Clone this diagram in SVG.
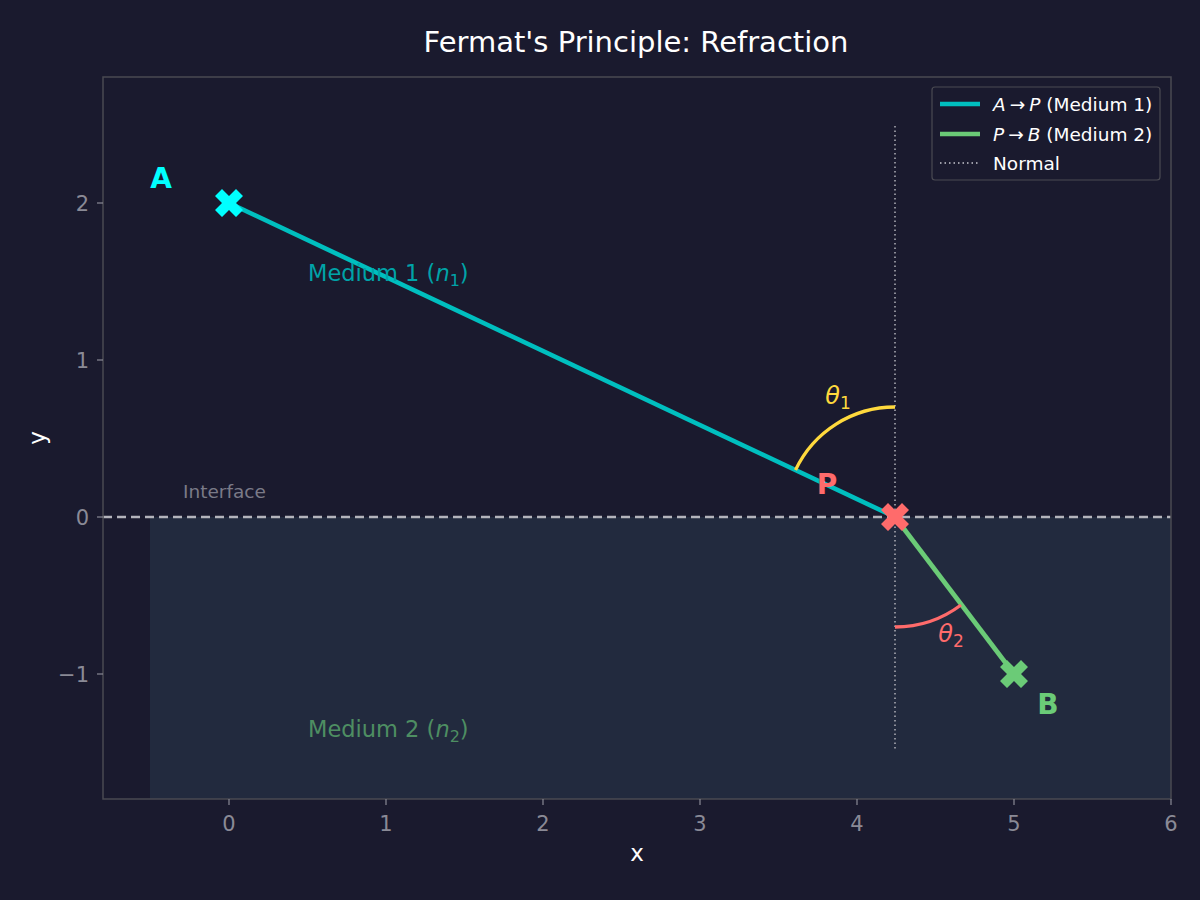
<svg xmlns="http://www.w3.org/2000/svg" width="1200" height="900" viewBox="0 0 1200 900">
<style>
text{font-family:"DejaVu Sans","Liberation Sans",sans-serif}
.tick{fill:#8a8a96;font-size:21px}
.tk{stroke:#8a8a96;stroke-width:1.2}
.leg{fill:#ffffff;font-size:18.5px}
.it{font-style:italic}
.lbl{font-size:28px;font-weight:bold}
</style>
<defs>
<path id="xm" d="M-7,-14 L0,-7 L7,-14 L14,-7 L7,0 L14,7 L7,14 L0,7 L-7,14 L-14,7 L-7,0 L-14,-7 Z"/>
</defs>
<rect x="0" y="0" width="1200" height="900" fill="#1a1a2e"/>
<text x="636" y="52" text-anchor="middle" fill="#ffffff" font-size="29">Fermat's Principle: Refraction</text>
<g id="axes-bg">
<rect x="150" y="517" width="1021" height="282" fill="#222a3e"/>
</g>
<g id="connectors">
<line x1="103" y1="517" x2="1171" y2="517" stroke="#b4b4bc" stroke-width="2.5" stroke-dasharray="9,5"/>
<line x1="895" y1="126" x2="895" y2="751" stroke="#b0b0b8" stroke-width="1.5" stroke-dasharray="1.5,3"/>
<line x1="229" y1="203" x2="895" y2="517" stroke="#00bfbf" stroke-width="4.6"/>
<line x1="895" y1="517" x2="1014" y2="674" stroke="#6bcb77" stroke-width="4.6"/>
<path d="M895,407 A110,110 0 0 0 795.5,470" fill="none" stroke="#ffd93d" stroke-width="3.3"/>
<path d="M895,627 A110,110 0 0 0 961,605" fill="none" stroke="#ff6b6b" stroke-width="3.3"/>
</g>
<g id="node-A">
<use href="#xm" x="229" y="203" fill="#00ffff"/>
<text class="lbl" x="161" y="188" text-anchor="middle" fill="#00ffff">A</text>
</g>
<g id="node-P">
<use href="#xm" x="895" y="517" fill="#ff6b6b"/>
<text class="lbl" x="827" y="494" text-anchor="middle" fill="#ff6b6b">P</text>
</g>
<g id="node-B">
<use href="#xm" x="1014" y="674" fill="#6bcb77"/>
<text class="lbl" x="1048" y="714" text-anchor="middle" fill="#6bcb77">B</text>
</g>
<g id="labels">
<text x="838" y="404" text-anchor="middle" fill="#ffd93d" font-size="24"><tspan class="it">θ</tspan><tspan font-size="17" dy="5">1</tspan></text>
<text x="951" y="642" text-anchor="middle" fill="#ff6b6b" font-size="24"><tspan class="it">θ</tspan><tspan font-size="17" dy="5">2</tspan></text>
<text x="308" y="281" fill="#00a3a8" font-size="22.5">Medium 1 (<tspan class="it">n</tspan><tspan font-size="16" dy="5">1</tspan><tspan dy="-5">)</tspan></text>
<text x="308" y="737" fill="#4e8e62" font-size="22.5">Medium 2 (<tspan class="it">n</tspan><tspan font-size="16" dy="5">2</tspan><tspan dy="-5">)</tspan></text>
<text x="183" y="498" fill="#7a7a88" font-size="18.5">Interface</text>
</g>
<g id="frame">
<rect x="103" y="77" width="1068" height="722" fill="none" stroke="#4a4a52" stroke-width="1.5"/>
</g>
<g id="ticks">
<line class="tk" x1="229" y1="799" x2="229" y2="805"/>
<line class="tk" x1="386" y1="799" x2="386" y2="805"/>
<line class="tk" x1="543" y1="799" x2="543" y2="805"/>
<line class="tk" x1="700" y1="799" x2="700" y2="805"/>
<line class="tk" x1="857" y1="799" x2="857" y2="805"/>
<line class="tk" x1="1014" y1="799" x2="1014" y2="805"/>
<line class="tk" x1="1171" y1="799" x2="1171" y2="805"/>
<text class="tick" x="229" y="831" text-anchor="middle">0</text>
<text class="tick" x="386" y="831" text-anchor="middle">1</text>
<text class="tick" x="543" y="831" text-anchor="middle">2</text>
<text class="tick" x="700" y="831" text-anchor="middle">3</text>
<text class="tick" x="857" y="831" text-anchor="middle">4</text>
<text class="tick" x="1014" y="831" text-anchor="middle">5</text>
<text class="tick" x="1171" y="831" text-anchor="middle">6</text>
<line class="tk" x1="97" y1="203" x2="103" y2="203"/>
<line class="tk" x1="97" y1="360" x2="103" y2="360"/>
<line class="tk" x1="97" y1="517" x2="103" y2="517"/>
<line class="tk" x1="97" y1="674" x2="103" y2="674"/>
<text class="tick" x="89" y="210.5" text-anchor="end">2</text>
<text class="tick" x="89" y="367.5" text-anchor="end">1</text>
<text class="tick" x="89" y="524.5" text-anchor="end">0</text>
<text class="tick" x="89" y="681.5" text-anchor="end">−1</text>
<text x="637" y="861" text-anchor="middle" fill="#ffffff" font-size="23">x</text>
<text transform="translate(45,438) rotate(-90)" text-anchor="middle" fill="#ffffff" font-size="23">y</text>
</g>
<g id="legend">
<rect x="932" y="87" width="228" height="93" rx="3" fill="#1a1a2e" stroke="#4a4a52" stroke-width="1.2"/>
<line x1="940" y1="104" x2="980" y2="104" stroke="#00bfbf" stroke-width="4.6"/>
<line x1="940" y1="134" x2="980" y2="134" stroke="#6bcb77" stroke-width="4.6"/>
<line x1="940" y1="163" x2="980" y2="163" stroke="#c8c8d0" stroke-width="1.5" stroke-dasharray="1.5,3"/>
<text class="leg" x="993" y="111"><tspan class="it">A</tspan><tspan dx="4">→</tspan><tspan class="it" dx="4">P</tspan> (Medium 1)</text>
<text class="leg" x="993" y="141"><tspan class="it">P</tspan><tspan dx="4">→</tspan><tspan class="it" dx="4">B</tspan> (Medium 2)</text>
<text class="leg" x="993" y="170">Normal</text>
</g>
</svg>
